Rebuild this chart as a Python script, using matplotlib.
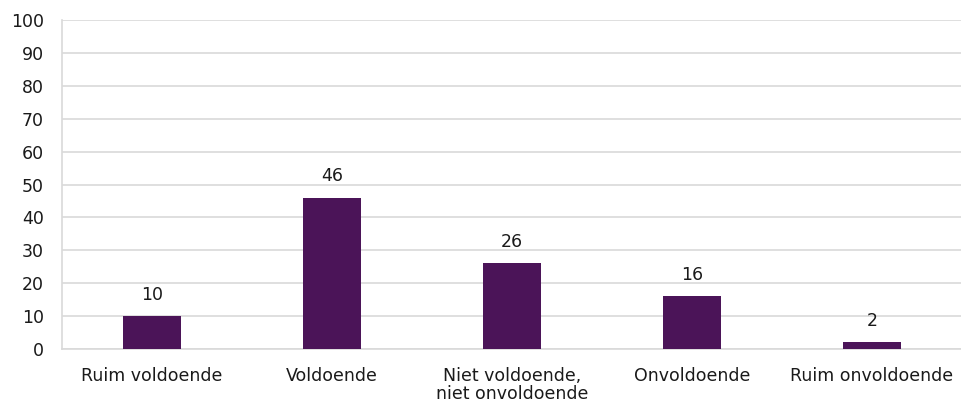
import matplotlib.pyplot as plt

categories = ['Ruim voldoende', 'Voldoende', 'Niet voldoende,\nniet onvoldoende',
              'Onvoldoende', 'Ruim onvoldoende']
values = [10, 46, 26, 16, 2]
yticks = [0, 10, 20, 30, 40, 50, 60, 70, 80, 90, 100]

plt.rcParams['font.family'] = ['DejaVu Sans']

fig = plt.figure(figsize=(9.62, 4.05), dpi=100)
ax = fig.add_axes([62 / 962, 56 / 405, 900 / 962, 329 / 405])

x = range(len(categories))
bars = ax.bar(x, values, width=0.32, color='#4B1458', zorder=3)
for b, v in zip(bars, values):
    ax.text(b.get_x() + b.get_width() / 2, v + 3.8, str(v),
            ha='center', va='bottom', fontsize=12.5, color='#1a1a1a')

ax.set_xlim(-0.5, len(categories) - 0.5)
ax.set_ylim(0, 100)
ax.set_yticks(yticks)
ax.set_xticks(list(x))
ax.set_xticklabels(categories, fontsize=12.5, color='#1a1a1a', linespacing=1.0)
ax.tick_params(axis='y', labelsize=12.5, labelcolor='#1a1a1a', length=0, pad=13)
ax.tick_params(axis='x', length=0, pad=13)

ax.yaxis.grid(True, color='#D9D9D9', linewidth=1.2, zorder=0)
for s in ['top', 'right']:
    ax.spines[s].set_visible(False)
ax.spines['left'].set_color('#D9D9D9')
ax.spines['left'].set_linewidth(1.2)
ax.spines['bottom'].set_color('#D9D9D9')
ax.spines['bottom'].set_linewidth(1.2)

fig.savefig('out.png', dpi=100)
